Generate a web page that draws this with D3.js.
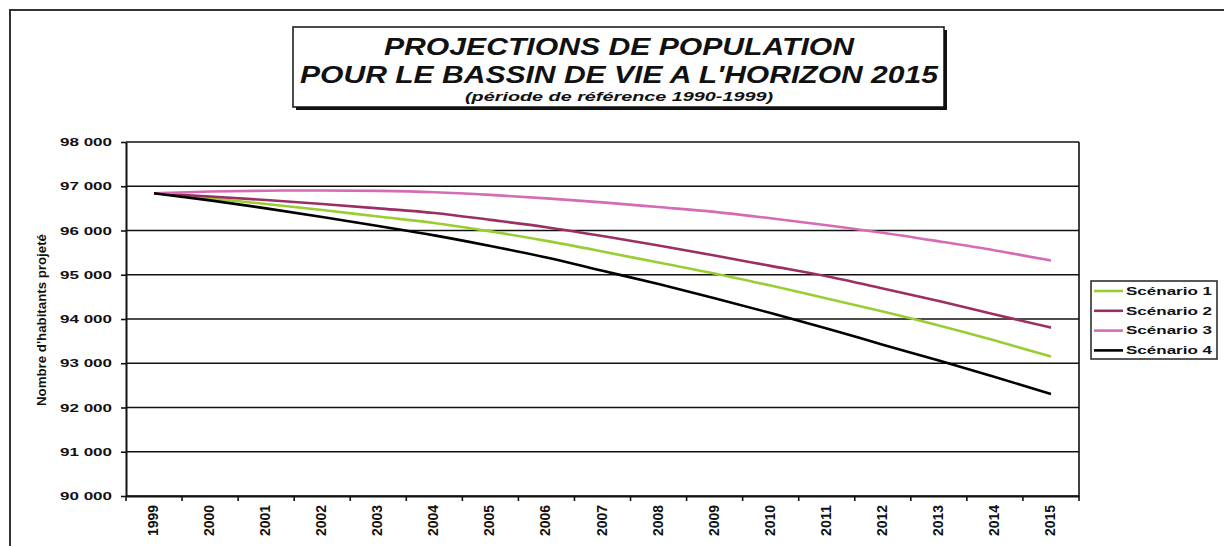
<!DOCTYPE html>
<html lang="fr">
<head>
    <meta charset="UTF-8">
    <title>Projections de population</title>
    <script src="https://cdn.jsdelivr.net/npm/d3@7"></script>
    <style>
        body { margin: 0; background: #fff; }
        svg { display: block; font-family: "Liberation Sans", Arial, sans-serif; }
    </style>
</head>
<body>
    <svg class="root"></svg>
<script>
    // data
    const years = ["1999","2000","2001","2002","2003","2004","2005","2006","2007",
                   "2008","2009","2010","2011","2012","2013","2014","2015"];
    const scenario1 = [96840, 96725, 96600, 96465, 96315, 96170, 95980, 95765, 95525,
                       95275, 95030, 94755, 94465, 94170, 93855, 93515, 93150];
    const scenario2 = [96840, 96770, 96690, 96600, 96500, 96395, 96240, 96075, 95875,
                       95660, 95435, 95200, 94965, 94690, 94405, 94100, 93805];
    const scenario3 = [96840, 96880, 96900, 96905, 96895, 96865, 96805, 96725, 96635,
                       96530, 96420, 96275, 96120, 95950, 95755, 95550, 95320];
    const scenario4 = [96840, 96680, 96500, 96305, 96100, 95890, 95650, 95390, 95090,
                       94790, 94470, 94135, 93785, 93420, 93060, 92690, 92305];
    const seriesNames = ["Scénario 1", "Scénario 2", "Scénario 3", "Scénario 4"];
    const yTicks = [90000, 91000, 92000, 93000, 94000, 95000, 96000, 97000, 98000];

    const series = [scenario1, scenario2, scenario3, scenario4];
    const colors = ["#9acd32", "#9b2f62", "#d46bb4", "#000000"];

    const width = 1224, height = 546;
    const margin = {top: 142, right: 145, bottom: 50, left: 126};

    const svg = d3.select(".root")
        .attr("width", width)
        .attr("height", height);

    // outer frame (only top and left edges visible)
    svg.append("rect")
        .attr("x", 10).attr("y", 10)
        .attr("width", width + 20).attr("height", height + 20)
        .attr("fill", "none")
        .attr("stroke", "#333")
        .attr("stroke-width", 2);

    const x = d3.scaleBand()
        .domain(years)
        .range([margin.left, width - margin.right])
        .padding(0);

    const y = d3.scaleLinear()
        .domain([90000, 98000])
        .range([height - margin.bottom, margin.top]);

    const fr = d3.formatLocale({decimal: ",", thousands: " ", grouping: [3], currency: ["", ""]});
    const fmt = fr.format(",");

    // gridlines
    svg.append("g")
        .selectAll("line")
        .data(yTicks)
        .join("line")
        .attr("x1", x.range()[0])
        .attr("x2", x.range()[1])
        .attr("y1", d => y(d))
        .attr("y2", d => y(d))
        .attr("stroke", "#111")
        .attr("stroke-width", 1.6);

    // right border of plot
    svg.append("line")
        .attr("x1", x.range()[1]).attr("x2", x.range()[1])
        .attr("y1", y(98000)).attr("y2", y(90000))
        .attr("stroke", "#111")
        .attr("stroke-width", 1.6);

    // y axis
    const yAxis = svg.append("g")
        .attr("transform", `translate(${x.range()[0]},0)`)
        .call(d3.axisLeft(y).tickValues(yTicks).tickFormat(fmt).tickSize(5).tickSizeOuter(0))
        .call(g => g.select(".domain").attr("stroke", "#111").attr("stroke-width", 2));
    yAxis.selectAll(".tick line").attr("stroke", "#111").attr("stroke-width", 1.6);
    yAxis.selectAll(".tick text")
        .attr("x", -14)
        .attr("fill", "#111")
        .style("font-size", "11px")
        .style("font-weight", "bold")
        .attr("textLength", 52)
        .attr("lengthAdjust", "spacingAndGlyphs");

    // x axis: ticks between categories, labels rotated
    const bw = x.bandwidth();
    const xAxis = svg.append("g")
        .attr("transform", `translate(0,${y(90000)})`)
        .call(d3.axisBottom(x).tickSize(0).tickSizeOuter(0))
        .call(g => g.select(".domain").attr("stroke", "#111").attr("stroke-width", 2));
    xAxis.selectAll(".tick text").remove();

    svg.append("g")
        .selectAll("line")
        .data(years.map(d => x(d)).concat([x.range()[1]]))
        .join("line")
        .attr("x1", d => d).attr("x2", d => d)
        .attr("y1", y(90000)).attr("y2", y(90000) + 5)
        .attr("stroke", "#111")
        .attr("stroke-width", 1.6);

    svg.append("g")
        .selectAll("text")
        .data(years)
        .join("text")
        .attr("transform", d => `translate(${x(d) + bw / 2 + 4},${y(90000) + 9}) scale(1.35,1) rotate(-90)`)
        .attr("text-anchor", "end")
        .attr("fill", "#111")
        .style("font-size", "11px")
        .style("font-weight", "bold")
        .attr("textLength", 31)
        .attr("lengthAdjust", "spacingAndGlyphs")
        .text(d => d);

    // y axis title
    svg.append("text")
        .attr("transform", `translate(46,320) rotate(-90)`)
        .attr("text-anchor", "middle")
        .attr("fill", "#111")
        .style("font-size", "12px")
        .style("font-weight", "bold")
        .attr("textLength", 172)
        .attr("lengthAdjust", "spacingAndGlyphs")
        .text("Nombre d'habitants projeté");

    // lines
    const line = d3.line()
        .x((d, i) => x(years[i]) + bw / 2)
        .y(d => y(d))
        .curve(d3.curveMonotoneX);

    svg.append("g")
        .selectAll("path")
        .data(series)
        .join("path")
        .attr("d", d => line(d))
        .attr("fill", "none")
        .attr("stroke", (d, i) => colors[i])
        .attr("stroke-width", 2.6);

    // legend
    const legend = svg.append("g");
    legend.append("rect")
        .attr("x", 1091).attr("y", 281)
        .attr("width", 126).attr("height", 78)
        .attr("fill", "#fff")
        .attr("stroke", "#222")
        .attr("stroke-width", 1.5);
    const item = legend.selectAll("g")
        .data(seriesNames)
        .join("g")
        .attr("transform", (d, i) => `translate(1094,${291 + i * 19.8})`);
    item.append("line")
        .attr("x1", 0).attr("x2", 29)
        .attr("stroke", (d, i) => colors[i])
        .attr("stroke-width", 2.6);
    item.append("text")
        .attr("x", 32)
        .attr("dy", "0.35em")
        .attr("fill", "#111")
        .style("font-size", "11px")
        .style("font-weight", "bold")
        .attr("textLength", 86)
        .attr("lengthAdjust", "spacingAndGlyphs")
        .text(d => d);

    // title box with shadow
    svg.append("rect")
        .attr("x", 296).attr("y", 30)
        .attr("width", 651).attr("height", 80)
        .attr("fill", "#111");
    svg.append("rect")
        .attr("x", 293).attr("y", 27)
        .attr("width", 651).attr("height", 80)
        .attr("fill", "#fff")
        .attr("stroke", "#111")
        .attr("stroke-width", 1.5);

    const title = svg.append("g")
        .attr("text-anchor", "middle")
        .attr("fill", "#111")
        .style("font-weight", "bold")
        .style("font-style", "italic");
    title.append("text")
        .attr("x", 619).attr("y", 55)
        .style("font-size", "24px")
        .attr("textLength", 470)
        .attr("lengthAdjust", "spacingAndGlyphs")
        .text("PROJECTIONS DE POPULATION");
    title.append("text")
        .attr("x", 619).attr("y", 83)
        .style("font-size", "24px")
        .attr("textLength", 638)
        .attr("lengthAdjust", "spacingAndGlyphs")
        .text("POUR LE BASSIN DE VIE A L'HORIZON 2015");
    title.append("text")
        .attr("x", 619).attr("y", 101)
        .style("font-size", "12px")
        .attr("textLength", 308)
        .attr("lengthAdjust", "spacingAndGlyphs")
        .text("(période de référence 1990-1999)");
</script>
</body>
</html>
